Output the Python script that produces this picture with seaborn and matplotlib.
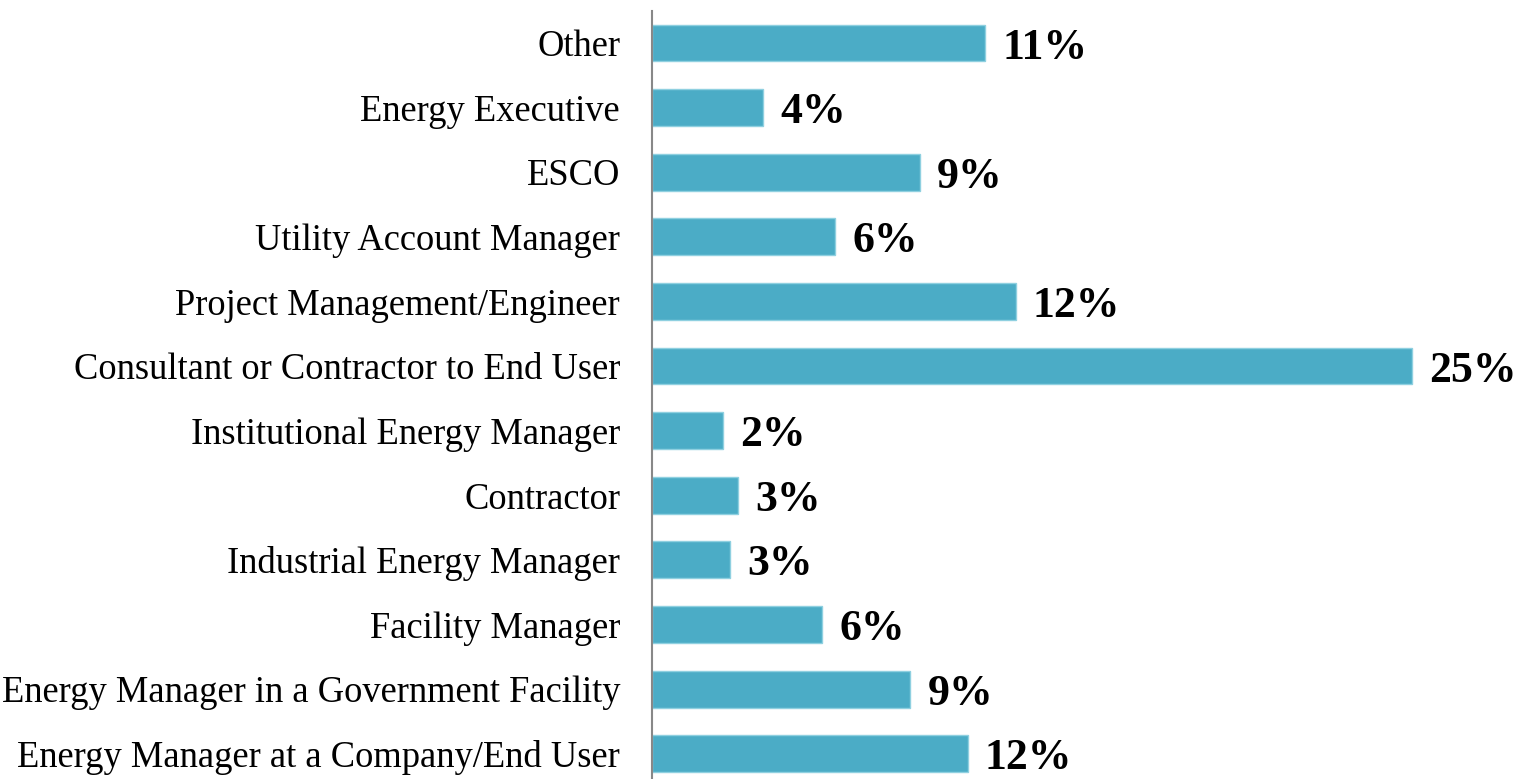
import matplotlib
matplotlib.use("Agg")
import matplotlib.pyplot as plt
import seaborn as sns
import pandas as pd

categories = [
    "Other",
    "Energy Executive",
    "ESCO",
    "Utility Account Manager",
    "Project Management/Engineer",
    "Consultant or Contractor to End User",
    "Institutional Energy Manager",
    "Contractor",
    "Industrial Energy Manager",
    "Facility Manager",
    "Energy Manager in a Government Facility",
    "Energy Manager at a Company/End User",
]
values = [10.97, 3.66, 8.8, 6.02, 11.96, 25.0, 2.34, 2.83, 2.57, 5.6, 8.5, 10.39]
value_labels = ["11%", "4%", "9%", "6%", "12%", "25%", "2%", "3%", "3%", "6%", "9%", "12%"]

df = pd.DataFrame({"category": categories, "value": values})

sns.set_style("white")
plt.rcParams["font.family"] = ["Liberation Serif", "DejaVu Serif"]

W, H = 1531, 779
fig = plt.figure(figsize=(W / 100, H / 100), dpi=100)
ax = fig.add_axes([652 / W, (H - 786) / H, (1520 - 652) / W, (786 - 10.7) / H])

sns.barplot(data=df, y="category", x="value", orient="h", color="#4BACC6",
            saturation=1, width=0.57, edgecolor="#8fd0e0", linewidth=1, ax=ax)

px_per_unit = 30.4
ax.set_xlim(0, (1520 - 652) / px_per_unit)
ax.set_ylim(len(categories) - 0.5, -0.5)

for i, (v, lab) in enumerate(zip(values, value_labels)):
    ax.text(v + 17 / px_per_unit, i, lab, va="center_baseline", ha="left",
            fontsize=31.5, fontweight="bold", color="black")

ax.set_xlabel("")
ax.set_ylabel("")
ax.set_xticks([])
ax.tick_params(axis="y", length=0, pad=23, labelsize=26.3, labelcolor="black")
for s in ["top", "right", "bottom"]:
    ax.spines[s].set_visible(False)
ax.spines["left"].set_color("#888888")
ax.spines["left"].set_linewidth(1.5)

fig.savefig("out.png", dpi=100)
